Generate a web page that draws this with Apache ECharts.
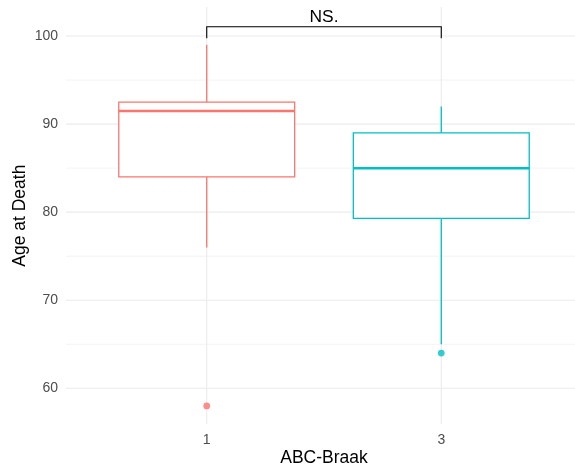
<!DOCTYPE html>
<html><head><meta charset="utf-8">
<script src="https://cdn.jsdelivr.net/npm/echarts@6/dist/echarts.min.js"></script>
<style>html,body{margin:0;padding:0;background:#fff;overflow:hidden}#c{width:575px;height:472px}</style>
</head><body><div id="c"></div>
<script>
// ---- data ----
const categories = ['1', '3'];
const lowerWhisker = [76, 65];
const q1 = [84, 79.3];
const medians = [91.5, 85];
const q3 = [92.5, 89];
const upperWhisker = [99, 92];
const outlierCategory = [0, 1];
const outlierValue = [58, 64];
const colors = ['#F8766D', '#00BFC4'];
const yTicks = [60, 70, 80, 90, 100];
const yMinorTicks = [65, 75, 85, 95];
const yRange = [55.91, 103.3];
const sigLabel = 'NS.';
const sigPair = [0, 1];
const sigBarY = 101.05;
const sigTipY = 99.75;

const FONT = "'Liberation Sans', Arial, sans-serif";
const pos = i => i + 1;

const boxData = categories.map((c, i) => [pos(i), lowerWhisker[i], q1[i], medians[i], q3[i], upperWhisker[i], i]);
const outlierData = outlierValue.map((v, k) => ({ value: [pos(outlierCategory[k]), v], itemStyle: { color: colors[outlierCategory[k]] } }));
const gridData = yTicks.map(v => [0, v]).concat(yMinorTicks.map(v => [1, v])).concat(categories.map((c, i) => [2, pos(i)]));

function renderGrid(params, api) {
  const cs = params.coordSys;
  const t = api.value(0), v = api.value(1);
  if (t === 2) {
    const x = api.coord([v, yRange[0]])[0];
    return { type: 'line', shape: { x1: x, y1: cs.y, x2: x, y2: cs.y + cs.height }, style: { stroke: '#EBEBEB', lineWidth: 1.1 } };
  }
  const y = api.coord([1, v])[1];
  return { type: 'line', shape: { x1: cs.x, y1: y, x2: cs.x + cs.width, y2: y },
    style: { stroke: '#EBEBEB', lineWidth: t === 0 ? 1.1 : 0.6 } };
}

function renderBox(params, api) {
  const x = api.value(0), i = api.value(6), hw = 0.375;
  const c = colors[i];
  const tl = api.coord([x - hw, api.value(4)]);
  const br = api.coord([x + hw, api.value(2)]);
  const mL = api.coord([x - hw, api.value(3)]);
  const mR = api.coord([x + hw, api.value(3)]);
  const low = api.coord([x, api.value(1)]);
  const b1 = api.coord([x, api.value(2)]);
  const b3 = api.coord([x, api.value(4)]);
  const up = api.coord([x, api.value(5)]);
  return { type: 'group', children: [
    { type: 'line', shape: { x1: up[0], y1: up[1], x2: b3[0], y2: b3[1] }, style: { stroke: c, lineWidth: 1.3 } },
    { type: 'line', shape: { x1: low[0], y1: low[1], x2: b1[0], y2: b1[1] }, style: { stroke: c, lineWidth: 1.3 } },
    { type: 'rect', shape: { x: tl[0], y: tl[1], width: br[0] - tl[0], height: br[1] - tl[1] }, style: { fill: '#fff', stroke: c, lineWidth: 1.3 } },
    { type: 'line', shape: { x1: mL[0], y1: mL[1], x2: mR[0], y2: mR[1] }, style: { stroke: c, lineWidth: 2.5 } }
  ] };
}

function renderSig(params, api) {
  const xa = api.value(0), xb = api.value(1), yb = api.value(2), yt = api.value(3);
  const p1 = api.coord([xa, yt]), p2 = api.coord([xa, yb]), p3 = api.coord([xb, yb]), p4 = api.coord([xb, yt]);
  const mid = api.coord([(xa + xb) / 2, yb]);
  return { type: 'group', children: [
    { type: 'polyline', shape: { points: [p1, p2, p3, p4] }, style: { stroke: '#000', lineWidth: 1.1, fill: null } },
    { type: 'text', x: mid[0], y: mid[1] - 1, style: { text: sigLabel, fill: '#000', fontSize: 17.4, fontFamily: FONT,
      align: 'center', verticalAlign: 'bottom', textAlign: 'center', textVerticalAlign: 'bottom' } }
  ] };
}

const chart = echarts.init(document.getElementById('c'), null, { renderer: 'canvas' });
chart.setOption({
  backgroundColor: '#fff',
  animation: false,
  grid: { left: 66, top: 7, width: 516, height: 417.3, containLabel: false, outerBoundsMode: 'none' },
  xAxis: {
    type: 'value', min: 0.4, max: 2.6,
    axisLine: { show: false }, axisTick: { show: false }, splitLine: { show: false },
    axisLabel: {
      color: '#4D4D4D', fontSize: 14, fontFamily: FONT, margin: 9,
      formatter: v => { const i = Math.round(v) - 1; return (Math.abs(v - (i + 1)) < 1e-6 && categories[i] !== undefined) ? categories[i] : ''; }
    },
    name: 'ABC-Braak', nameLocation: 'middle', nameGap: 25,
    nameMoveOverlap: false,
    nameTextStyle: { color: '#000', fontSize: 17.5, fontFamily: FONT }
  },
  yAxis: {
    type: 'value', min: yRange[0], max: yRange[1],
    axisLine: { show: false }, axisTick: { show: false }, splitLine: { show: false },
    axisLabel: {
      color: '#4D4D4D', fontSize: 14, fontFamily: FONT, margin: 8,
      formatter: v => { const t = yTicks.find(k => Math.abs(k - v) < 1e-6); return t !== undefined ? String(t) : ''; }
    },
    name: 'Age at Death', nameLocation: 'middle', nameGap: 37, nameRotate: 90,
    nameMoveOverlap: false,
    nameTextStyle: { color: '#000', fontSize: 17.5, fontFamily: FONT }
  },
  series: [
    { type: 'custom', z: 1, silent: true, renderItem: renderGrid, data: gridData },
    { type: 'custom', z: 2, silent: true, renderItem: renderBox, data: boxData },
    { type: 'scatter', z: 3, silent: true, symbol: 'circle', symbolSize: 6.8, data: outlierData },
    { type: 'custom', z: 4, silent: true, renderItem: renderSig, data: [[pos(sigPair[0]), pos(sigPair[1]), sigBarY, sigTipY]] }
  ]
});
</script>
</body></html>
